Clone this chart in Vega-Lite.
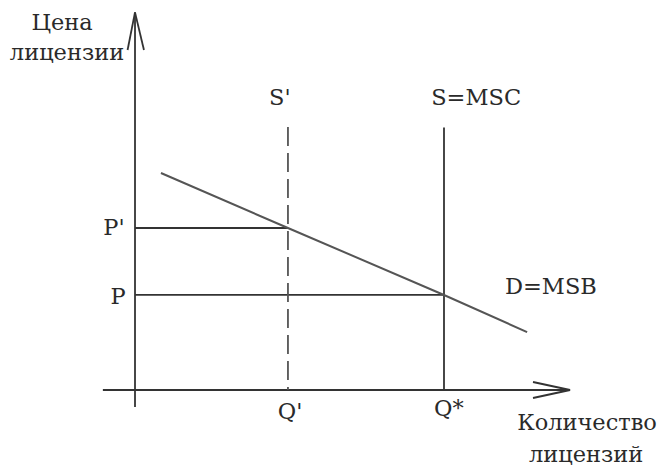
{
  "$schema": "https://vega.github.io/schema/vega-lite/v6.json",
  "width": 664,
  "height": 468,
  "autosize": {"type": "fit", "contains": "padding"},
  "padding": 0,
  "background": "white",
  "config": {"view": {"stroke": null}},
  "datasets": {
    "segments": [
      {"name": "y axis", "q": 0, "q2": 0, "p": -1.06, "p2": 23.6},
      {"name": "y arrow left", "q": 0, "q2": -0.24, "p": 23.6, "p2": 21.25},
      {"name": "y arrow right", "q": 0, "q2": 0.29, "p": 23.6, "p2": 21.25},
      {"name": "x axis", "q": -1.04, "q2": 14.08, "p": 0, "p2": 0},
      {"name": "x arrow up", "q": 14.08, "q2": 12.88, "p": 0, "p2": 0.5},
      {"name": "x arrow down", "q": 14.08, "q2": 12.88, "p": 0, "p2": -0.5},
      {"name": "P'", "q": 0, "q2": 4.95, "p": 10.125, "p2": 10.125},
      {"name": "P", "q": 0, "q2": 10, "p": 5.94, "p2": 5.94},
      {"name": "S=MSC", "q": 10, "q2": 10, "p": 0, "p2": 16.4}
    ],
    "dashed": [
      {"name": "S'", "q": 4.95, "q2": 4.95, "p": 0, "p2": 16.44}
    ],
    "demand": [
      {"q": 0.84, "p": 13.56},
      {"q": 4.95, "p": 10.125},
      {"q": 10, "p": 5.94},
      {"q": 12.69, "p": 3.62}
    ],
    "labels": [
      {"text": "Цена", "q": -2.36, "p": 22.94},
      {"text": "лицензии", "q": -2.2, "p": 21.06},
      {"text": "S'", "q": 4.69, "p": 18.25},
      {"text": "S=MSC", "q": 11.04, "p": 18.25},
      {"text": "P'", "q": -0.68, "p": 10.125},
      {"text": "P", "q": -0.55, "p": 5.81},
      {"text": "Q'", "q": 5.02, "p": -1.375},
      {"text": "Q*", "q": 10.16, "p": -1.19},
      {"text": "D=MSB", "q": 13.46, "p": 6.44},
      {"text": "Количество", "q": 14.63, "p": -2.06},
      {"text": "лицензий", "q": 14.6, "p": -4.06}
    ]
  },
  "layer": [
    {
      "data": {"name": "segments"},
      "mark": {"type": "rule", "color": "#333333", "strokeWidth": 1.8},
      "encoding": {
        "x": {"field": "q", "type": "quantitative", "scale": {"domain": [-4.369, 17.12], "nice": false, "zero": false}, "axis": null},
        "x2": {"field": "q2"},
        "y": {"field": "p", "type": "quantitative", "scale": {"domain": [-4.875, 24.375], "nice": false, "zero": false}, "axis": null},
        "y2": {"field": "p2"}
      }
    },
    {
      "data": {"name": "dashed"},
      "mark": {"type": "rule", "color": "#555555", "strokeWidth": 1.8, "strokeDash": [19, 7]},
      "encoding": {
        "x": {"field": "q", "type": "quantitative"},
        "x2": {"field": "q2"},
        "y": {"field": "p2", "type": "quantitative"},
        "y2": {"field": "p"}
      }
    },
    {
      "data": {"name": "demand"},
      "mark": {"type": "line", "color": "#555555", "strokeWidth": 2},
      "encoding": {
        "x": {"field": "q", "type": "quantitative"},
        "y": {"field": "p", "type": "quantitative"}
      }
    },
    {
      "data": {"name": "labels"},
      "mark": {"type": "text", "font": "DejaVu Serif", "fontSize": 22.5, "color": "#2a2a2a", "align": "center", "baseline": "middle"},
      "encoding": {
        "x": {"field": "q", "type": "quantitative"},
        "y": {"field": "p", "type": "quantitative"},
        "text": {"field": "text", "type": "nominal"}
      }
    }
  ]
}
